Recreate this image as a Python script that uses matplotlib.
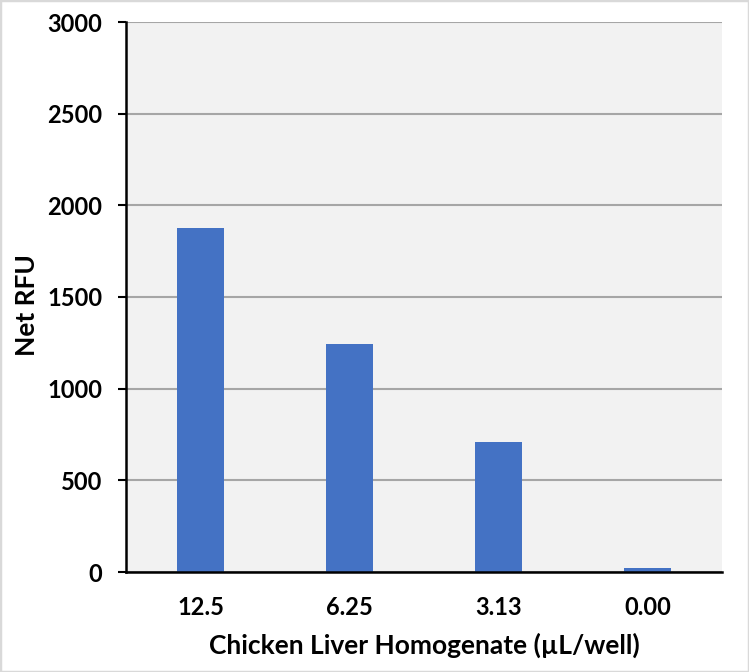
import matplotlib.pyplot as plt
from matplotlib.patches import Rectangle

# Data
categories = ['12.5', '6.25', '3.13', '0.00']
net_rfu = [1878, 1245, 710, 22]
y_ticks = [0, 500, 1000, 1500, 2000, 2500, 3000]

plt.rcParams['font.family'] = ['Lato', 'DejaVu Sans']

fig = plt.figure(figsize=(7.49, 6.72), dpi=100)
ax = fig.add_axes([126 / 749, 100 / 672, 596 / 749, 550 / 672])
ax.set_facecolor('#F2F2F2')

x = range(len(categories))
ax.bar(x, net_rfu, width=0.32, color='#4472C4', zorder=3)

ax.set_xlim(-0.5, len(categories) - 0.5)
ax.set_ylim(0, 3000)
ax.set_yticks(y_ticks)
ax.set_xticks(list(x))
ax.set_xticklabels(categories)
ax.yaxis.grid(True, color='#A6A6A6', linewidth=1.5, zorder=0)
ax.set_axisbelow(True)

for s in ['top', 'right']:
    ax.spines[s].set_visible(False)
for s in ['left', 'bottom']:
    ax.spines[s].set_color('black')
    ax.spines[s].set_linewidth(1.8)
    ax.spines[s].set_zorder(4)

ax.tick_params(axis='y', length=6, width=1.5, pad=11, labelsize=17)
ax.tick_params(axis='x', length=0, pad=17, labelsize=17)
for lbl in ax.get_xticklabels() + ax.get_yticklabels():
    lbl.set_fontweight('bold')

ax.set_ylabel('Net RFU', fontsize=19, fontweight='bold')
ax.yaxis.set_label_coords(-0.146, 0.485)
ax.set_xlabel('Chicken Liver Homogenate (µL/well)', fontsize=19, fontweight='bold', labelpad=10)

fig.patches.append(Rectangle((0, 0), 1, 1, transform=fig.transFigure,
                             fill=False, edgecolor='#D9D9D9', linewidth=2.5))

fig.savefig('out.png', dpi=100)
